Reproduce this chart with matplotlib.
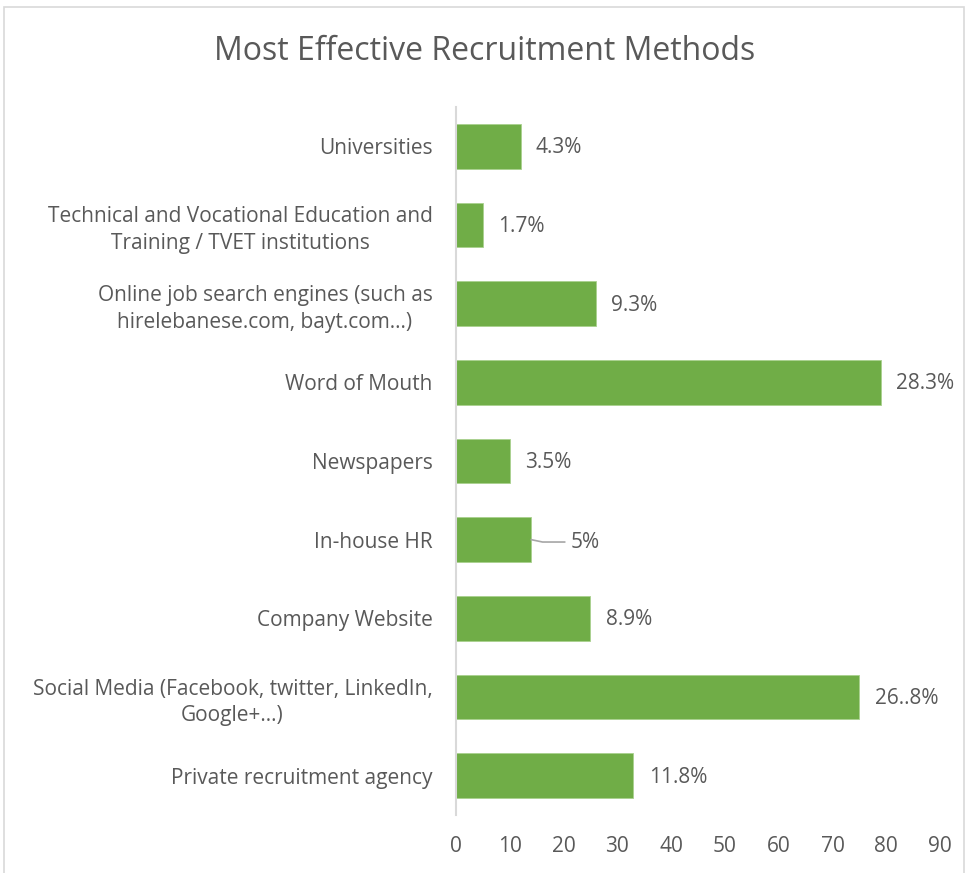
import matplotlib

matplotlib.use("Agg")
import matplotlib.pyplot as plt
from matplotlib.patches import Rectangle

# bottom-to-top order, as the bars stack on the y axis
methods = [
    "Private recruitment agency",
    "Social Media (Facebook, twitter, LinkedIn,\nGoogle+\u2026)",
    "Company Website",
    "In-house HR",
    "Newspapers",
    "Word of Mouth",
    "Online job search engines (such as\nhirelebanese.com, bayt.com\u2026)",
    "Technical and Vocational Education and\nTraining / TVET institutions",
    "Universities",
]
counts = [33, 75, 25, 14, 10, 79, 26, 5, 12]
pct_labels = ["11.8%", "26..8%", "8.9%", "5%", "3.5%", "28.3%", "9.3%", "1.7%", "4.3%"]
x_ticks = [0, 10, 20, 30, 40, 50, 60, 70, 80, 90]

TEXT = "#595959"
GREEN = "#70AD47"
plt.rcParams["font.family"] = ["Open Sans", "DejaVu Sans"]

fig = plt.figure(figsize=(9.7, 8.73), dpi=100)
fig.patches.append(Rectangle((0.004, -0.01), 0.99, 1.002, transform=fig.transFigure,
                             fill=False, edgecolor="#D9D9D9", linewidth=1.2))

ax = fig.add_axes([456 / 970, 1 - 815 / 873, (940 - 456) / 970, (815 - 107) / 873])
pos = list(range(len(methods)))
bars = ax.barh(pos, counts, height=0.57, color=GREEN, edgecolor="#A9D18E", linewidth=0.6)

for i, (bar, lab) in enumerate(zip(bars, pct_labels)):
    w = bar.get_width()
    if lab == "5%":
        # this label sits further out, joined by a leader line
        ax.plot([w, w + 2.1, w + 6.2], [i, i - 0.03, i - 0.03], color="#A6A6A6", linewidth=1.2)
        ax.text(w + 7.3, i - 0.03, lab, va="center", ha="left", fontsize=15, color=TEXT)
    else:
        ax.annotate(lab, (w, i - 0.02), xytext=(11, 0), textcoords="offset points",
                    va="center", ha="left", fontsize=15, color=TEXT)

ax.set_xlim(0, 90)
ax.set_ylim(-0.5, len(methods) - 0.5)
ax.set_xticks(x_ticks)
ax.set_yticks(pos)
ax.set_yticklabels(methods, ha="right", multialignment="center", linespacing=1.35)
ax.tick_params(axis="x", length=0, pad=15, labelsize=15, labelcolor=TEXT)
ax.tick_params(axis="y", length=0, pad=17, labelsize=15, labelcolor=TEXT)
for side in ["top", "right", "bottom"]:
    ax.spines[side].set_visible(False)
ax.spines["left"].set_color("#D9D9D9")
ax.spines["left"].set_linewidth(1.5)

fig.text(0.5, 1 - 51 / 873, "Most Effective Recruitment Methods", ha="center", va="center",
         fontsize=23, color=TEXT)

fig.savefig("out.png", dpi=100)
